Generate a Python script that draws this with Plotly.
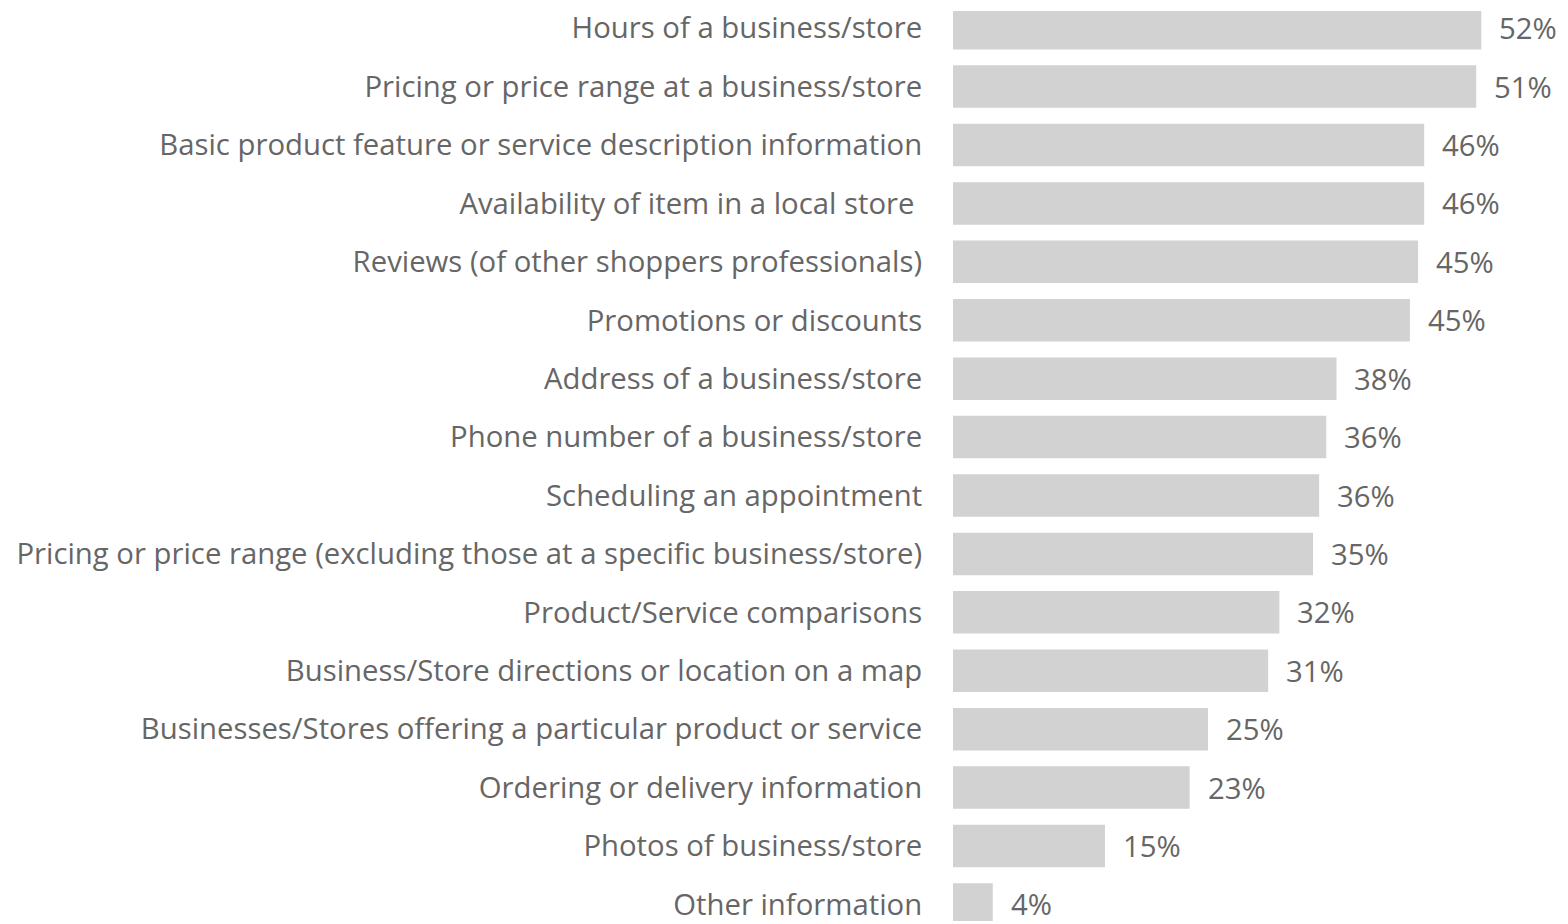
import plotly.graph_objects as go

categories = [
    "Hours of a business/store",
    "Pricing or price range at a business/store",
    "Basic product feature or service description information",
    "Availability of item in a local store\u00a0",
    "Reviews (of other shoppers professionals)",
    "Promotions or discounts",
    "Address of a business/store",
    "Phone number of a business/store",
    "Scheduling an appointment",
    "Pricing or price range (excluding those at a specific business/store)",
    "Product/Service comparisons",
    "Business/Store directions or location on a map",
    "Businesses/Stores offering a particular product or service",
    "Ordering or delivery information",
    "Photos of business/store",
    "Other information",
]
values = [51.8, 51.3, 46.2, 46.2, 45.6, 44.8, 37.6, 36.6, 35.9, 35.3,
          32.0, 30.9, 25.0, 23.2, 14.9, 3.9]
labels = ["52%", "51%", "46%", "46%", "45%", "45%", "38%", "36%", "36%", "35%",
          "32%", "31%", "25%", "23%", "15%", "4%"]

GREY_TEXT = "#666666"
BAR = "#d2d2d2"
FONT = "Open Sans"
SIZE = 29.3

fig = go.Figure(
    go.Bar(
        x=values,
        y=categories,
        orientation="h",
        marker_color=BAR,
        marker_line_width=0,
        width=0.727,
        hoverinfo="skip",
    )
)

for cat, val, lab in zip(categories, values, labels):
    fig.add_annotation(
        x=val, y=cat, text=lab, showarrow=False,
        xanchor="left", xshift=16,
        font=dict(family=FONT, size=SIZE, color=GREY_TEXT),
    )

# page body has an 8px margin, so the figure is offset by 8px
fig.update_layout(
    width=1560,
    height=916,
    margin=dict(l=945, r=0, t=0, b=0),
    plot_bgcolor="white",
    paper_bgcolor="white",
    showlegend=False,
    font=dict(family=FONT, size=SIZE, color=GREY_TEXT),
    xaxis=dict(range=[0, 60.3], visible=False, fixedrange=True),
    yaxis=dict(
        range=[15.284, -0.294],
        showgrid=False,
        zeroline=False,
        showline=False,
        ticks="outside",
        ticklen=24,
        tickcolor="rgba(0,0,0,0)",
        tickfont=dict(family=FONT, size=SIZE, color=GREY_TEXT),
    ),
)

fig.write_html("out.html")
